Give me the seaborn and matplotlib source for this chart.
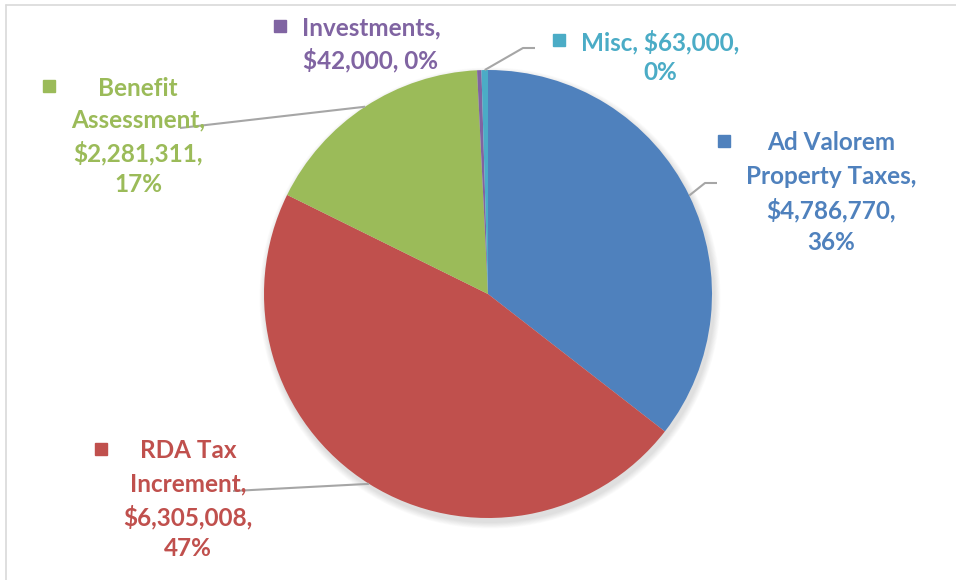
import numpy as np
import seaborn as sns
import matplotlib
matplotlib.use("Agg")
import matplotlib.pyplot as plt
from matplotlib.patches import Circle

# Revenue sources
categories = ["Ad Valorem Property Taxes", "RDA Tax Increment",
              "Benefit Assessment", "Investments", "Misc"]
amounts = [4786770, 6305008, 2281311, 42000, 63000]
label_lines = [
    ["Ad Valorem", "Property Taxes,", "$4,786,770,", "36%"],
    ["RDA Tax", "Increment,", "$6,305,008,", "47%"],
    ["Benefit", "Assessment,", "$2,281,311,", "17%"],
    ["Investments,", "$42,000, 0%"],
    ["Misc, $63,000,", "0%"],
]
colors = ["#4F81BD", "#C0504D", "#9BBB59", "#8064A2", "#4BACC6"]

sns.set_theme(style="white")
plt.rcParams["font.family"] = ["Lato", "DejaVu Sans"]

W, H = 956, 580
fig = plt.figure(figsize=(W / 100, H / 100), dpi=100)
ax = fig.add_axes([0, 0, 1, 1])

cx, cy, r = 488, 294, 224

# soft drop shadow under the pie
for k in range(8):
    ax.add_patch(Circle((cx + 2, cy + 4), r + 1 + k * 0.8, color="#000000",
                        alpha=0.016, lw=0, zorder=0))

# pie in a y-down axis: slices run clockwise from the top
wedges, _ = ax.pie(amounts, colors=colors, startangle=-90, counterclock=True,
                   center=(cx, cy), radius=r, frame=True,
                   wedgeprops=dict(linewidth=0))
ax.set_xlim(0, W)
ax.set_ylim(H, 0)
ax.set_aspect("equal")
ax.axis("off")

# text blocks: center x of text, y of each line, leader elbow/end points
layout = [
    dict(x=831, ys=[143, 177, 210, 243], leader=[(705, 183), (717, 183)]),
    dict(x=188, ys=[451, 484, 517, 549], leader=[(233, 491)]),
    dict(x=138, ys=[88, 120, 153, 185], leader=[(180, 128)]),
    dict(x=371, ys=[28, 60], leader=None),
    dict(x=660, ys=[42, 73], leader=[(523, 48), (535, 48)]),
]

fs = 17.5
total = sum(amounts)
fig.canvas.draw()
rend = fig.canvas.get_renderer()
inv = ax.transData.inverted()

cum = 0.0
for i, (amt, col) in enumerate(zip(amounts, colors)):
    frac = amt / total
    mid = cum + frac / 2
    cum += frac
    L = layout[i]
    # leader line from slice edge at its mid-angle
    if L["leader"]:
        ang = np.deg2rad(90 - mid * 360)
        sx, sy = cx + r * np.cos(ang), cy - r * np.sin(ang)
        pts = [(sx, sy)] + L["leader"]
        ax.plot([p[0] for p in pts], [p[1] for p in pts], color="#A6A6A6",
                lw=1.5, zorder=3, solid_capstyle="butt")
    lefts = []
    for line, y in zip(label_lines[i], L["ys"]):
        t = ax.text(L["x"], y, line, color=col, fontsize=fs, fontweight="bold",
                    ha="center", va="center", zorder=4)
        bb = t.get_window_extent(rend)
        lefts.append(inv.transform((bb.x0, bb.y0))[0])
    # square key left of the text block
    ax.plot([min(lefts) - 22], [L["ys"][0] - 2], marker="s", ms=9, color=col,
            mec=col, ls="none", zorder=4)

# chart border (top and left visible)
fig.add_artist(plt.Line2D([6 / W, 1], [1 - 5 / H, 1 - 5 / H],
                          color="#D9D9D9", lw=1.2))
fig.add_artist(plt.Line2D([6 / W, 6 / W], [0, 1 - 5 / H],
                          color="#D9D9D9", lw=1.2))

fig.savefig("out.png", dpi=100, facecolor="white")
